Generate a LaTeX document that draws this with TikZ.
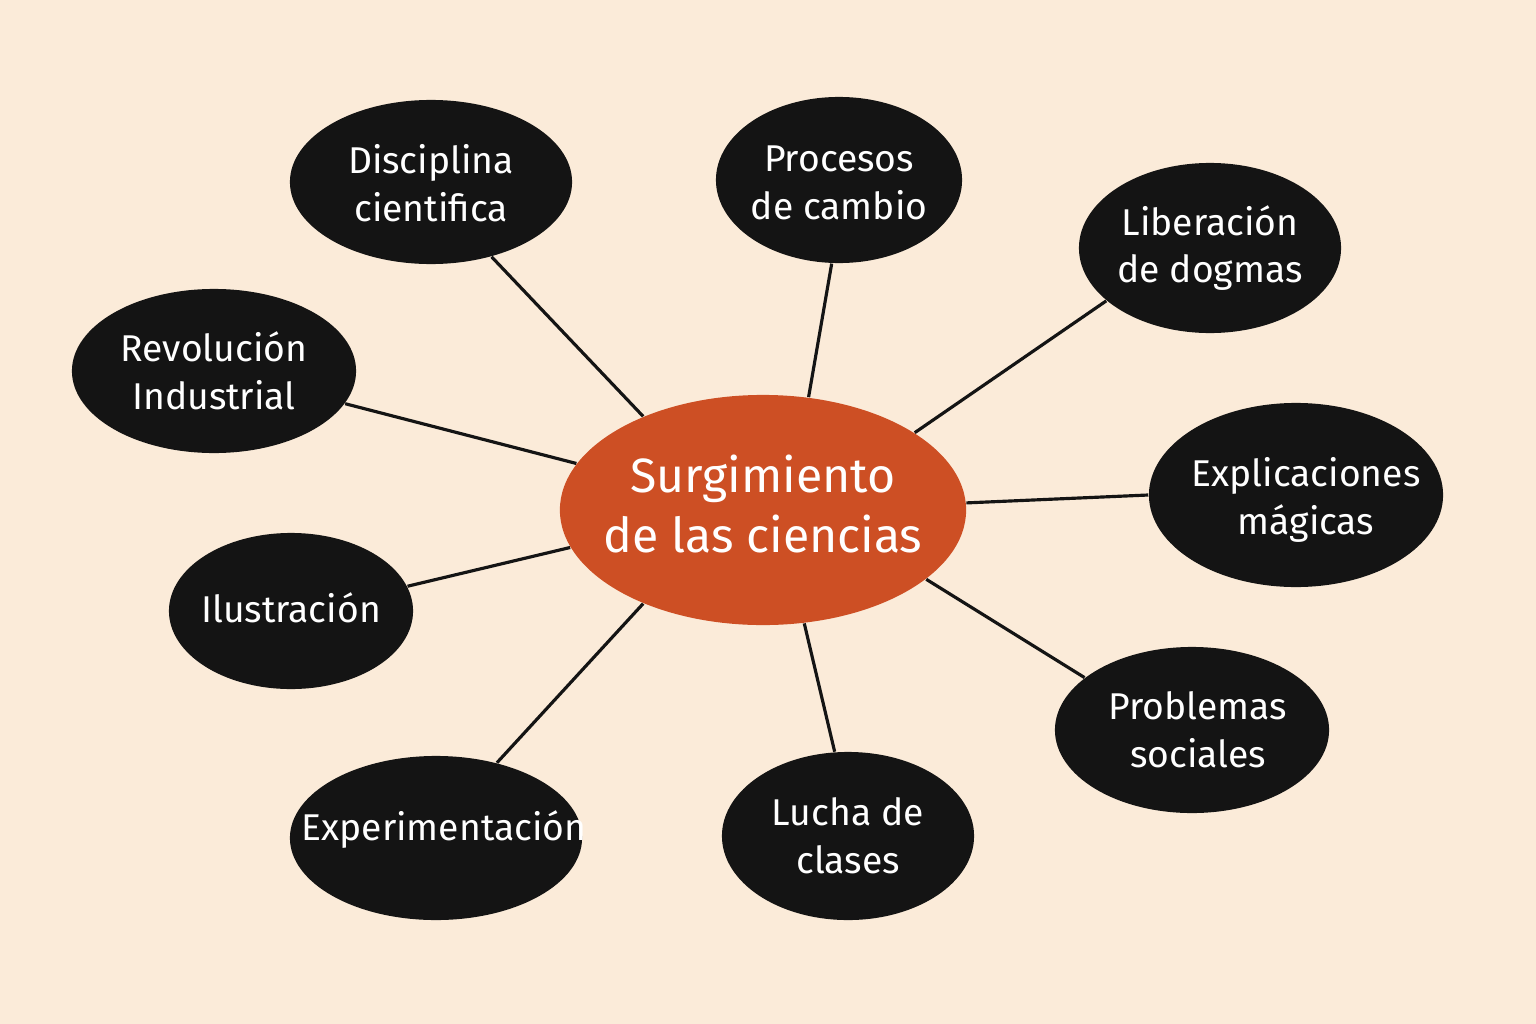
\documentclass[tikz,border=0pt]{standalone}
\usepackage{fontspec}
\setmainfont{Fira Sans}
\usetikzlibrary{shapes.geometric}
\definecolor{bgc}{HTML}{FBEBD9}
\definecolor{orc}{HTML}{CD4F24}
\definecolor{blk}{HTML}{141414}
\tikzset{
  leaf/.style={ellipse, fill=blk, inner sep=0pt},
  hub/.style={ellipse, fill=orc, inner sep=0pt},
  ltxt/.style={text=white, inner sep=0pt, align=center,
    font=\fontsize{10.6}{13.6}\selectfont},
  htxt/.style={text=white, inner sep=0pt, align=center,
    font=\fontsize{13.7}{17}\selectfont},
  link/.style={draw=blk, line width=0.9pt}
}
\begin{document}
\begin{tikzpicture}[x=0.01cm,y=-0.01cm]
\fill[bgc] (0,0) rectangle (1536,1024);
\useasboundingbox (0,0) rectangle (1536,1024);
\node[hub, minimum width=4.06cm, minimum height=2.30cm] (c) at (763,510) {};
\node[leaf, minimum width=2.82cm, minimum height=1.64cm] (d) at (431,182) {};
\node[leaf, minimum width=2.46cm, minimum height=1.66cm] (p) at (839,180) {};
\node[leaf, minimum width=2.62cm, minimum height=1.70cm] (l) at (1210,248) {};
\node[leaf, minimum width=2.84cm, minimum height=1.64cm] (r) at (214,371) {};
\node[leaf, minimum width=2.94cm, minimum height=1.84cm] (e) at (1296,495) {};
\node[leaf, minimum width=2.44cm, minimum height=1.56cm] (i) at (291,611) {};
\node[leaf, minimum width=2.74cm, minimum height=1.66cm] (s) at (1192,730) {};
\node[leaf, minimum width=2.92cm, minimum height=1.64cm] (x) at (436,838) {};
\node[leaf, minimum width=2.52cm, minimum height=1.68cm] (u) at (848,836) {};
\node[htxt] (ct) at ([yshift=0.06cm]c.center) {Surgimiento\\de las ciencias};
\node[ltxt] (dt) at ([yshift=-0.01cm]d.center) {Disciplina\\cientifica};
\node[ltxt] (pt) at ([yshift=-0.03cm]p.center) {Procesos\\de cambio};
\node[ltxt] (lt) at (l) {Liberación\\de dogmas};
\node[ltxt] (rt) at (r) {Revolución\\Industrial};
\node[ltxt] (et) at ([xshift=0.1cm,yshift=-0.05cm]e.center) {Explicaciones\\mágicas};
\node[ltxt] (it) at ([yshift=0.03cm]i.center) {Ilustración};
\node[ltxt] (st) at ([xshift=0.06cm]s.center) {Problemas\\sociales};
\node[ltxt] (xt) at ([xshift=0.08cm,yshift=0.08cm]x.center) {Experimentación};
\node[ltxt] (ut) at (u) {Lucha de\\clases};
\draw[link] (c.142) -- (d.309);
\draw[link] (c.68) -- (p.265);
\draw[link] (c.27) -- (l.207);
\draw[link] (c.166) -- (r.346);
\draw[link] (c.2.5) -- (e.180);
\draw[link] (c.191) -- (i.12);
\draw[link] (c.337) -- (s.154);
\draw[link] (c.218) -- (x.51);
\draw[link] (c.290) -- (u.99);
\end{tikzpicture}
\end{document}
